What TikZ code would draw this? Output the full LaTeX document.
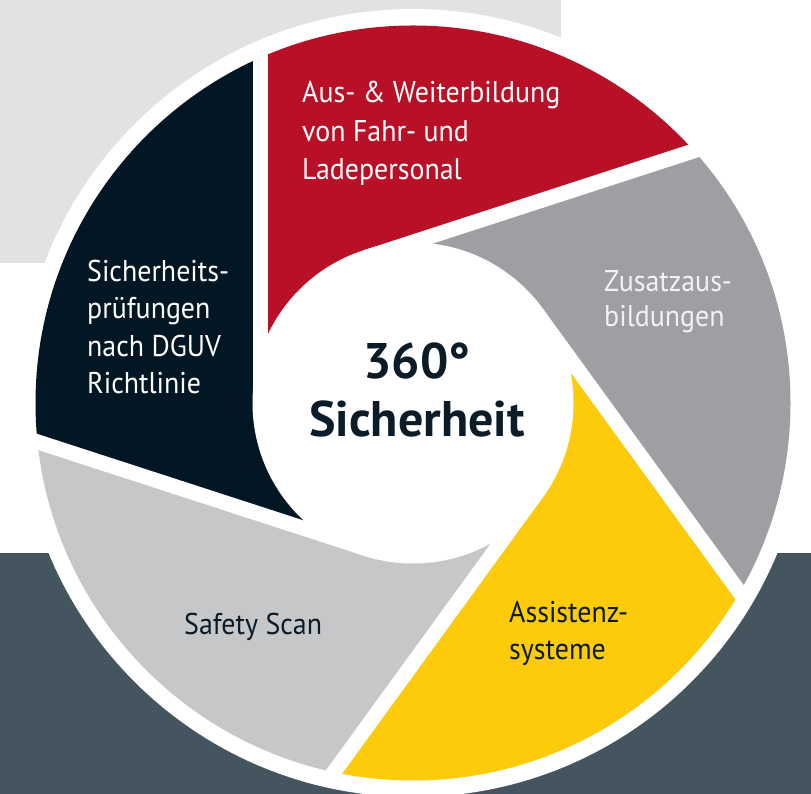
\documentclass[tikz,border=0pt]{standalone}
\usepackage{fontspec}
\setmainfont{PT Sans}
\newfontfamily\lblfont[FakeStretch=0.93]{PT Sans}
\usetikzlibrary{calc}
\definecolor{bglight}{HTML}{E1E2E4}
\definecolor{bgdark}{HTML}{455560}
\definecolor{bladered}{HTML}{B81026}
\definecolor{bladenavy}{HTML}{021624}
\definecolor{bladegray}{HTML}{9E9FA3}
\definecolor{bladeyellow}{HTML}{FECB0B}
\definecolor{bladelight}{HTML}{C6C7C9}
\definecolor{darktext}{HTML}{0B1B27}
\tikzset{
  lbl/.style={anchor=base west, inner sep=0pt, align=left,
    font=\lblfont\fontsize{30}{37.5}\selectfont},
  centerlbl/.style={anchor=base, inner sep=0pt, align=center,
    font=\bfseries\fontsize{50}{58}\selectfont, text=darktext},
  gapline/.style={draw=white, line width=15pt}
}
\begin{document}
\begin{tikzpicture}[x=1pt,y=1pt]
\useasboundingbox (0,0) rectangle (811,794);
\fill[white] (0,0) rectangle (811,794);
\fill[bglight] (0,531) rectangle (561,794);
\fill[bgdark] (0,0) rectangle (811,241);
\coordinate (C) at (413,391);
\fill[white] (C) circle[radius=394];
\begin{scope}
  \clip (C) circle[radius=377.5];
  \foreach \p/\col in {180/bladered,108/bladegray,36/bladeyellow,-36/bladelight,-108/bladenavy}{
    \fill[\col] ($(C)+(\p:153)$) -- ++({\p-90}:600)
      -- ($(C)+({\p-72}:153)+({\p-162}:600)$)
      -- ($(C)+({\p-72}:153)$) arc[start angle={\p-72}, end angle=\p, radius=153] -- cycle;
  }
\end{scope}
\fill[white] (C) circle[radius=160.5];
\foreach \p in {180,108,36,-36,-108}{
  \draw[gapline] ($(C)+(\p:153)$) -- ++({\p-90}:355);
}
\node[lbl, text=white, font=\lblfont\fontsize{30}{38.5}\selectfont] (lblRed) at (302,614)
  {Aus- \& Weiterbildung\\von Fahr- und\\Ladepersonal};
\node[lbl, text=white] (lblNavy) at (87,400)
  {Sicherheits-\\prüfungen\\nach DGUV\\Richtlinie};
\node[lbl, text=white!95!black, font=\lblfont\fontsize{30}{35.5}\selectfont] (lblGray) at (604,467)
  {Zusatzaus-\\bildungen};
\node[lbl, text=darktext] (lblLight) at (184,159) {Safety Scan};
\node[lbl, text=darktext, font=\lblfont\fontsize{30}{37}\selectfont] (lblYellow) at (509,134)
  {Assistenz-\\systeme};
\node[centerlbl] (center) at (417,357) {360°\\Sicherheit};
\end{tikzpicture}
\end{document}
